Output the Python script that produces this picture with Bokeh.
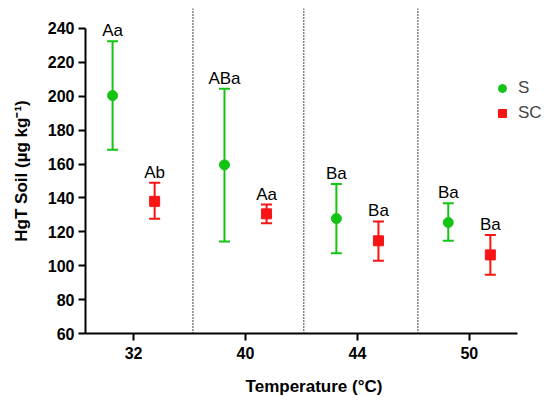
from bokeh.plotting import figure
from bokeh.models import Legend, LegendItem, Span, ColumnDataSource, FixedTicker
from bokeh.core.properties import value
from bokeh.embed import file_html
from bokeh.resources import INLINE

temps = ["32", "40", "44", "50"]
s_mean = [200.4, 159.5, 127.8, 125.5]
s_upper = [232.5, 204.4, 148.3, 136.9]
s_lower = [168.4, 114.3, 107.4, 114.7]
s_labels = ["Aa", "ABa", "Ba", "Ba"]
sc_mean = [138.0, 130.6, 114.7, 106.4]
sc_upper = [148.9, 136.1, 126.1, 118.2]
sc_lower = [127.7, 125.1, 103.0, 94.6]
sc_labels = ["Ab", "Aa", "Ba", "Ba"]

GREEN = "#14C414"
RED = "#F81414"
OFF = 0.188
FONT = "Liberation Sans"

pos = [i + 1 for i in range(len(temps))]
xs = [p - OFF for p in pos]
xc = [p + OFF for p in pos]

p = figure(width=542, height=398, output_backend="svg", toolbar_location=None,
           x_range=(0.57, 4.654), y_range=(60, 251.8),
           min_border_left=85, min_border_right=0, min_border_top=8, min_border_bottom=65)
p.outline_line_color = None
p.grid.visible = False
p.background_fill_color = "white"
p.border_fill_color = "white"

# dividers
for d in [1.53, 2.52, 3.54]:
    p.add_layout(Span(location=d, dimension="height", line_color="black",
                      line_width=1.5, line_dash="1 2"))

src_s = ColumnDataSource(dict(x=xs, y=s_mean, up=s_upper, lo=s_lower, lab=s_labels))
src_c = ColumnDataSource(dict(x=xc, y=sc_mean, up=sc_upper, lo=sc_lower, lab=sc_labels))

for src, col in [(src_s, GREEN), (src_c, RED)]:
    p.segment(x0="x", y0="lo", x1="x", y1="up", source=src, line_color=col, line_width=2)
    p.scatter(x="x", y="up", source=src, marker="dash", size=11, line_color=col, line_width=2)
    p.scatter(x="x", y="lo", source=src, marker="dash", size=11, line_color=col, line_width=2)
    p.text(x="x", y="up", text="lab", source=src, text_align="center",
           text_baseline="bottom", y_offset=-1, text_font=value(FONT),
           text_font_size=value("17px"), text_color="black")

r_s = p.scatter(x="x", y="y", source=src_s, marker="circle", size=10,
                fill_color=GREEN, line_color=GREEN)
r_c = p.scatter(x="x", y="y", source=src_c, marker="square", size=10,
                fill_color=RED, line_color=RED)

legend = Legend(items=[LegendItem(label="S", renderers=[r_s]),
                       LegendItem(label="SC", renderers=[r_c])],
                location=(407, 210), padding=0, margin=0, spacing=5,
                glyph_width=20, glyph_height=20, label_standoff=6,
                label_text_font=FONT, label_text_font_size="17px",
                border_line_color=None, background_fill_alpha=0)
p.add_layout(legend)

# axes
p.xaxis.ticker = FixedTicker(ticks=pos)
p.xaxis.major_label_overrides = {pp: t for pp, t in zip(pos, temps)}
p.xaxis.bounds = (0.57, 4.43)
p.yaxis.ticker = FixedTicker(ticks=list(range(60, 241, 20)))
p.yaxis.bounds = (60, 240)
for ax in [p.xaxis, p.yaxis]:
    ax.axis_line_width = 2
    ax.major_tick_line_width = 2
    ax.major_tick_out = 7
    ax.major_tick_in = 0
    ax.minor_tick_line_color = None
    ax.major_label_text_font = FONT
    ax.major_label_text_font_style = "bold"
    ax.major_label_text_font_size = "16px"
    ax.major_label_text_color = "black"
    ax.axis_label_text_font = FONT
    ax.axis_label_text_font_style = "bold"
    ax.axis_label_text_font_size = "17px"
    ax.axis_label_text_color = "black"
p.xaxis.axis_label = "Temperature (°C)"
p.yaxis.axis_label = "HgT Soil (µg kg⁻¹)"
p.xaxis.major_label_standoff = 6
p.yaxis.major_label_standoff = 4
p.xaxis.axis_label_standoff = 15
p.yaxis.axis_label_standoff = 14

open("out.html", "w").write(file_html(p, INLINE))
